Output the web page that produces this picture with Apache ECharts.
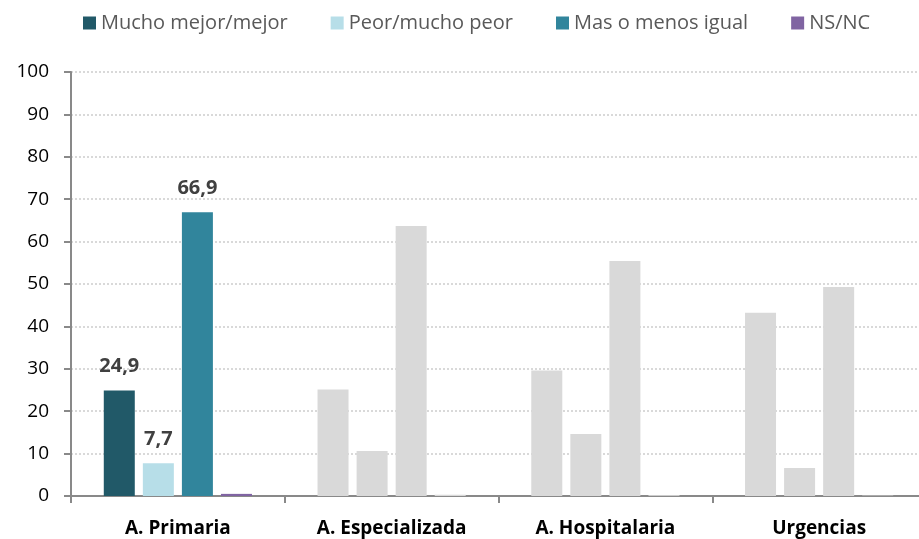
<!DOCTYPE html>
<html>
<head>
<meta charset="utf-8">
<script src="https://cdn.jsdelivr.net/npm/echarts@6/dist/echarts.min.js"></script>
<style>
  html, body { margin: 0; padding: 0; background: #fff; }
  #main { width: 919px; height: 539px; }
</style>
</head>
<body>
<div id="main"></div>
<script>
// datos
const categorias = ['A. Primaria', 'A. Especializada', 'A. Hospitalaria', 'Urgencias']
const series = ['Mucho mejor/mejor', 'Peor/mucho peor', 'Mas o menos igual', 'NS/NC']
const mejor = [24.9, 25.1, 29.6, 43.2]
const peor = [7.7, 10.6, 14.6, 6.6]
const igual = [66.9, 63.7, 55.4, 49.3]
const nsnc = [0.5, 0.3, 0.2, 0.1]
const colores = ['#215968', '#B7DEE8', '#31859C', '#8064A2']
const gris = '#D9D9D9'
const yTicks = [0, 10, 20, 30, 40, 50, 60, 70, 80, 90, 100]

const chart = echarts.init(document.getElementById('main'))
const font = 'Open Sans'

// solo la primera categoria va en color y con etiqueta
function buildSerie (nombre, valores, idx) {
  return {
    name: nombre,
    type: 'bar',
    barWidth: 31,
    barGap: '26%',
    itemStyle: { color: colores[idx] },
    data: valores.map((v, i) => ({
      value: v,
      itemStyle: { color: i === 0 ? colores[idx] : gris },
      label: {
        show: i === 0 && idx < 3,
        position: 'top',
        distance: 14,
        formatter: (p) => String(p.value).replace('.', ','),
        fontFamily: font,
        fontWeight: 'bold',
        fontSize: 20,
        color: '#404040'
      }
    }))
  }
}

const option = {
  animation: false,
  textStyle: { fontFamily: font },
  legend: {
    top: 8,
    left: 78,
    itemWidth: 13,
    itemHeight: 13,
    itemGap: 43,
    icon: 'rect',
    textStyle: { fontFamily: font, fontSize: 20, color: '#595959' },
    data: series
  },
  grid: {
    left: 71,
    width: 855,
    top: 72,
    bottom: 43,
    containLabel: false,
    outerBoundsMode: 'none'
  },
  xAxis: {
    type: 'category',
    data: categorias,
    axisLine: { lineStyle: { color: '#898989', width: 2 } },
    axisTick: { show: true, length: 7, lineStyle: { color: '#898989', width: 2 } },
    axisLabel: { fontFamily: font, fontWeight: 'bold', fontSize: 19, color: '#000', margin: 23 }
  },
  yAxis: {
    type: 'value',
    min: 0,
    max: 100,
    interval: 10,
    axisLine: { show: true, lineStyle: { color: '#898989', width: 2 } },
    axisTick: { show: true, length: 7, lineStyle: { color: '#898989', width: 2 } },
    axisLabel: {
      fontFamily: font, fontSize: 19, color: '#000', margin: 22,
      formatter: (v) => (yTicks.includes(v) ? String(v) : '')
    },
    splitLine: { lineStyle: { color: '#D9D9D9', type: [2, 2], width: 2 } }
  },
  series: [
    buildSerie(series[0], mejor, 0),
    buildSerie(series[1], peor, 1),
    buildSerie(series[2], igual, 2),
    buildSerie(series[3], nsnc, 3)
  ]
}

chart.setOption(option)
</script>
</body>
</html>
